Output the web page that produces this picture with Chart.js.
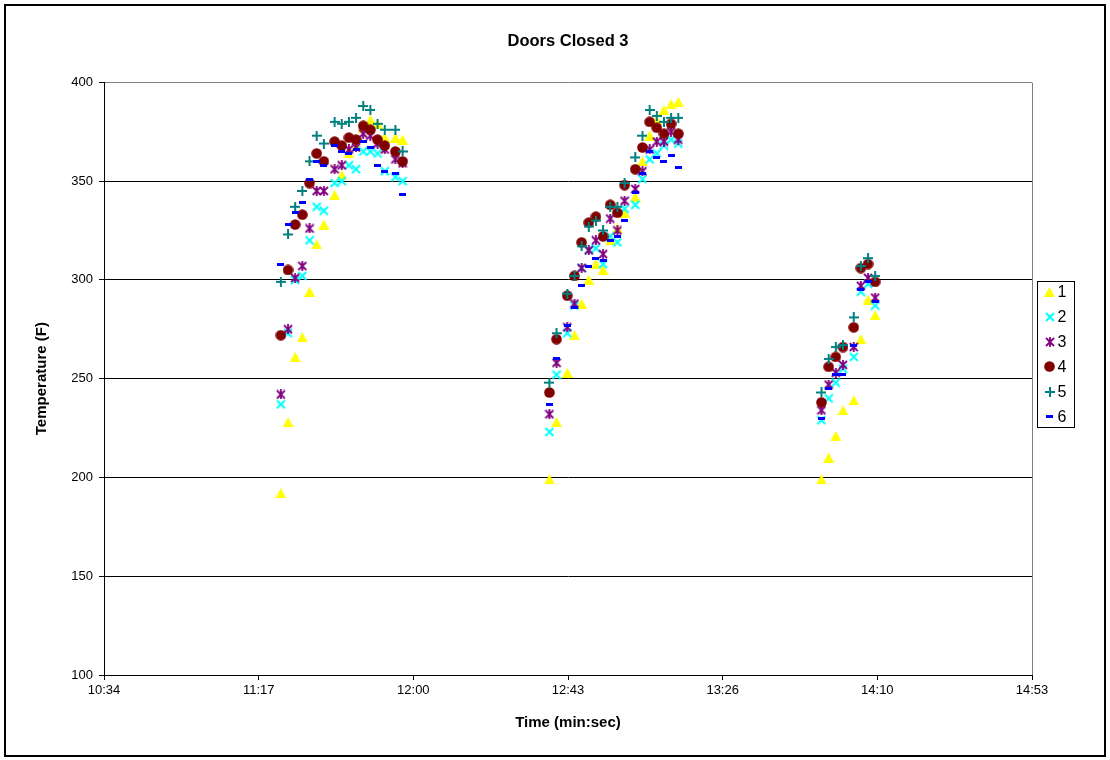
<!DOCTYPE html>
<html>
<head>
<meta charset="utf-8">
<title>Doors Closed 3</title>
<script src="https://cdn.jsdelivr.net/npm/chart.js@4.4.1/dist/chart.umd.min.js"></script>
<style>
  html, body { margin: 0; padding: 0; background: #fff; }
  canvas { display: block; }
</style>
</head>
<body>
<canvas id="chart" width="1110" height="760"></canvas>
<script>
// Sample times (h:mm) for the three heating runs
const sampleTimes = [
  '11:23','11:25','11:27','11:29','11:31','11:33','11:35','11:38','11:40','11:42','11:44','11:46','11:48','11:50','11:52','11:55','11:57',
  '12:38','12:40','12:43','12:45','12:47','12:49','12:51','12:53','12:55','12:57','12:59','13:02','13:04','13:06','13:08','13:10','13:12','13:14',
  '13:54','13:56','13:58','14:00','14:03','14:05','14:07','14:09'
];

// Temperature (F) per thermocouple, aligned with sampleTimes
const sensor1 = [
  192, 228, 261, 271, 294, 318, 328, 343, 353, 364, 368, 377, 381, 379, 372, 372, 371,
  199, 228, 253, 272, 288, 300, 308, 305, 320, 326, 334, 342, 360, 373, 381, 386, 389, 390,
  199, 210, 221, 234, 239, 270, 290, 282
];
const sensor2 = [
  237, 273, 300, 302, 320, 337, 335, 349, 350, 358, 356, 365, 365, 364, 355, 352, 350,
  223, 252, 273, 287, 306, 315, 316, 308, 322, 319, 336, 338, 351, 361, 364, 368, 371, 369,
  229, 240, 248, 255, 261, 294, 298, 287
];
const sensor3 = [
  242, 275, 301, 307, 326, 345, 345, 356, 358, 366, 367, 374, 373, 369, 366, 361, 359,
  232, 258, 276, 288, 306, 315, 320, 313, 331, 325, 340, 346, 355, 366, 370, 370, 375, 371,
  234, 247, 253, 257, 266, 297, 301, 291
];
const sensor4 = [
  272, 305, 328, 333, 349, 364, 360, 370, 368, 372, 371, 378, 376, 371, 368, 365, 360,
  243, 270, 292, 302, 319, 329, 332, 322, 338, 334, 348, 356, 367, 380, 377, 374, 379, 374,
  238, 256, 261, 266, 276, 306, 308, 299
];
const sensor5 = [
  299, 323, 337, 345, 360, 373, 369, 380, 379, 380, 382, 388, 386, 379, 376, 376, 365,
  248, 273, 293, 302, 317, 327, 330, 325, 337, 337, 349, 362, 373, 386, 383, 380, 382, 382,
  243, 260, 266, 267, 281, 307, 311, 302
];
const sensor6 = [
  308, 328, 334, 339, 351, 360, 358, 368, 365, 364, 366, 370, 367, 358, 355, 354, 343,
  237, 260, 277, 286, 297, 307, 311, 310, 320, 322, 330, 344, 354, 365, 362, 360, 363, 357,
  230, 245, 252, 252, 267, 295, 299, 289
];

const seriesNames = ['1', '2', '3', '4', '5', '6'];

// Axis ticks: x in fractions of a day, labelled as clock time
const xTickValues = [0.44, 0.47, 0.50, 0.53, 0.56, 0.59, 0.62];
const xTickLabels = ['10:34', '11:17', '12:00', '12:43', '13:26', '14:10', '14:53'];
const yTickValues = [100, 150, 200, 250, 300, 350, 400];

function dayFraction(hm) {
  const [h, m] = hm.split(':').map(Number);
  return (h * 60 + m) / 1440;
}

// Marker glyphs drawn once onto small canvases
function marker(w, h, paint) {
  const c = document.createElement('canvas');
  c.width = w; c.height = h;
  paint(c.getContext('2d'), w, h);
  return c;
}
const markTriangle = marker(11, 10, (g) => {
  g.fillStyle = '#FFFF00';
  g.beginPath(); g.moveTo(5.5, 0); g.lineTo(11, 10); g.lineTo(0, 10); g.closePath(); g.fill();
});
const markX = marker(10, 10, (g) => {
  g.strokeStyle = '#00FFFF'; g.lineWidth = 2;
  g.beginPath(); g.moveTo(1, 1); g.lineTo(9, 9); g.moveTo(9, 1); g.lineTo(1, 9); g.stroke();
});
const markStar = marker(10, 10, (g) => {
  g.strokeStyle = '#800080'; g.lineWidth = 1.8;
  g.beginPath(); g.moveTo(1, 1); g.lineTo(9, 9); g.moveTo(9, 1); g.lineTo(1, 9);
  g.moveTo(5, 0); g.lineTo(5, 10); g.stroke();
});
const markDot = marker(11, 11, (g) => {
  g.fillStyle = '#800000';
  g.beginPath(); g.arc(5.5, 5.5, 5.3, 0, Math.PI * 2); g.fill();
});
const markPlus = marker(10, 10, (g) => {
  g.fillStyle = '#008080';
  g.fillRect(4, 0, 2, 10); g.fillRect(0, 4, 10, 2);
});
const markDash = marker(7, 3, (g) => {
  g.fillStyle = '#0000FF';
  g.fillRect(0, 0, 7, 3);
});
const seriesMarkers = [markTriangle, markX, markStar, markDot, markPlus, markDash];
const seriesValues = [sensor1, sensor2, sensor3, sensor4, sensor5, sensor6];

const datasets = seriesValues.map((vals, i) => ({
  label: seriesNames[i],
  data: sampleTimes.map((t, j) => ({ x: dayFraction(t), y: vals[j] })).filter(p => p.y != null),
  pointStyle: seriesMarkers[i],
  pointRadius: 5,
  pointHoverRadius: 5,
  showLine: false,
  order: seriesValues.length - 1 - i
}));

// Frame around the page, grey plot-area edge and the boxed legend
const chartDecor = {
  id: 'chartDecor',
  beforeDatasetsDraw(chart) {
    const { ctx, chartArea: a } = chart;
    ctx.save();
    ctx.strokeStyle = '#808080';
    ctx.lineWidth = 1;
    ctx.beginPath();
    ctx.moveTo(Math.round(a.right) + 0.5, Math.round(a.top) + 0.5);
    ctx.lineTo(Math.round(a.right) + 0.5, Math.round(a.bottom));
    ctx.stroke();
    ctx.restore();
  },
  afterDraw(chart) {
    const { ctx, chartArea: a } = chart;
    ctx.save();
    ctx.strokeStyle = '#000';
    ctx.lineWidth = 2;
    ctx.strokeRect(5, 5, 1100, 751);

    const left = Math.round(a.right) + 5.5;
    const top = 281.5;
    const rowH = 25;
    ctx.lineWidth = 1;
    ctx.strokeRect(left, top, 37, rowH * seriesNames.length - 4);
    ctx.font = '16px "Liberation Sans", Arial, sans-serif';
    ctx.fillStyle = '#000';
    ctx.textBaseline = 'middle';
    ctx.textAlign = 'left';
    seriesNames.forEach((name, i) => {
      const cy = top + 10 + i * rowH;
      const m = seriesMarkers[i];
      ctx.drawImage(m, Math.round(left + 12 - m.width / 2), Math.round(cy - m.height / 2));
      ctx.fillText(name, left + 20, cy + 1);
    });
    ctx.restore();
  }
};

Chart.defaults.font.family = '"Liberation Sans", Arial, sans-serif';
Chart.defaults.color = '#000';

new Chart(document.getElementById('chart'), {
  type: 'scatter',
  data: { datasets },
  plugins: [chartDecor],
  options: {
    responsive: false,
    animation: false,
    events: [],
    layout: { padding: { top: 0, left: 0, right: 78, bottom: 0 } },
    plugins: {
      legend: { display: false },
      tooltip: { enabled: false },
      title: {
        display: true,
        text: 'Doors Closed 3',
        fullSize: false,
        color: '#000',
        font: { size: 16.5, weight: 'bold' },
        padding: { top: 32, bottom: 30.5 }
      }
    },
    scales: {
      x: {
        type: 'linear',
        min: xTickValues[0],
        max: xTickValues[xTickValues.length - 1],
        afterBuildTicks: (s) => { s.ticks = xTickValues.map(v => ({ value: v })); },
        afterFit: (s) => { s.height = 85; },
        grid: { drawOnChartArea: false, tickColor: '#000', tickLength: 5 },
        border: { color: '#000' },
        ticks: {
          autoSkip: false, maxRotation: 0, padding: 3,
          font: { size: 13 }, color: '#000',
          callback: (v, i) => xTickLabels[i]
        },
        title: {
          display: true, text: 'Time (min:sec)', color: '#000',
          font: { size: 15, weight: 'bold' },
          padding: { top: 0, bottom: 28 }
        }
      },
      y: {
        type: 'linear',
        min: yTickValues[0],
        max: yTickValues[yTickValues.length - 1],
        afterBuildTicks: (s) => { s.ticks = yTickValues.map(v => ({ value: v })); },
        afterFit: (s) => { s.width = 104; },
        grid: {
          color: (c) => (c.tick && c.tick.value === 400 ? '#808080' : '#000'),
          tickColor: '#000',
          tickLength: 5,
          lineWidth: 1
        },
        border: { color: '#000' },
        ticks: { padding: 6, font: { size: 13 }, color: '#000' },
        title: {
          display: true, text: 'Temperature (F)', color: '#000',
          font: { size: 15, weight: 'bold' },
          padding: { top: 33, bottom: 0 }
        }
      }
    }
  }
});
</script>
</body>
</html>
